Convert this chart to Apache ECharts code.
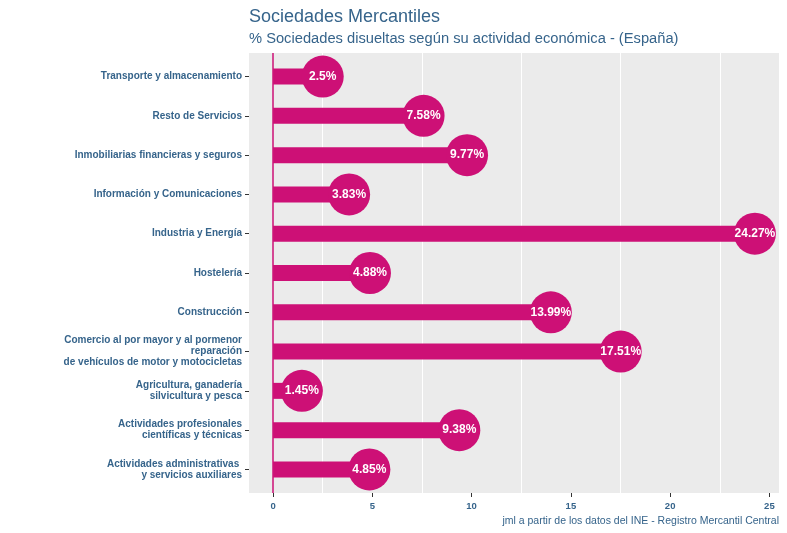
<!DOCTYPE html>
<html>
<head>
<meta charset="utf-8">
<script src="https://cdn.jsdelivr.net/npm/echarts@6/dist/echarts.min.js"></script>
<style>html,body{margin:0;padding:0;background:#fff;}#c{width:787px;height:533px;}</style>
</head>
<body>
<div id="c"></div>
<script>
// Categories listed bottom -> top
const categories = [
  "Actividades administrativas \ny servicios auxiliares",
  "Actividades profesionales\ncientíficas y técnicas",
  "Agricultura, ganadería\nsilvicultura y pesca",
  "Comercio al por mayor y al pormenor\nreparación\nde vehículos de motor y motocicletas",
  "Construcción",
  "Hostelería",
  "Industria y Energía",
  "Información y Comunicaciones",
  "Inmobiliarias financieras y seguros",
  "Resto de Servicios",
  "Transporte y almacenamiento"
];
const values = [4.85, 9.38, 1.45, 17.51, 13.99, 4.88, 24.27, 3.83, 9.77, 7.58, 2.5];
const xTicks = [0, 5, 10, 15, 20, 25];
const xMinorGrid = [2.5, 7.5, 12.5, 17.5, 22.5];
const yTicks = categories.map((c, i) => i);

const PINK = '#CD1076';
const BLUE = '#36648B';
const FONT = '"Liberation Sans", Arial, sans-serif';

const pts = values.map((v, i) => [v, i]);

const chart = echarts.init(document.getElementById('c'), null, {renderer: 'canvas'});
chart.setOption({
  animation: false,
  backgroundColor: '#ffffff',
  title: [
    {text: 'Sociedades Mercantiles', left: 249, top: 8, padding: 0,
     textStyle: {fontFamily: FONT, fontSize: 18, fontWeight: 'normal', color: BLUE}},
    {text: '% Sociedades disueltas según su actividad económica - (España)', left: 249, top: 31, padding: 0,
     textStyle: {fontFamily: FONT, fontSize: 14.7, fontWeight: 'normal', color: BLUE}},
    {text: 'jml a partir de los datos del INE - Registro Mercantil Central', right: 8, top: 516, padding: 0,
     textStyle: {fontFamily: FONT, fontSize: 10.5, fontWeight: 'normal', color: BLUE}}
  ],
  grid: {left: 249, right: 8, top: 53, bottom: 40, show: true, backgroundColor: '#EBEBEB', borderWidth: 0},
  xAxis: {
    type: 'value', min: -1.2135, max: 25.4835,
    axisLine: {show: false, onZero: false},
    splitLine: {show: false},
    axisTick: {show: true, length: 4, customValues: xTicks, lineStyle: {color: '#333333', width: 1}},
    axisLabel: {customValues: xTicks, margin: 8, fontFamily: FONT, fontSize: 9.5, fontWeight: 'bold', color: BLUE,
      formatter: v => String(v)}
  },
  yAxis: {
    type: 'value', min: -0.6, max: 10.6,
    axisLine: {show: false, onZero: false},
    splitLine: {show: false},
    axisTick: {show: true, length: 4, customValues: yTicks, lineStyle: {color: '#333333', width: 1}},
    axisLabel: {customValues: yTicks, margin: 7, fontFamily: FONT, fontSize: 10, fontWeight: 'bold', color: BLUE,
      lineHeight: 11, align: 'right',
      formatter: v => categories[Math.round(v)] || ''}
  },
  series: [
    {
      type: 'custom',
      z: 2,
      data: pts,
      encode: {x: 0, y: 1},
      renderItem: function (params, api) {
        const v = api.value(0), idx = api.value(1);
        const s = api.coord([0, idx]);
        const e = api.coord([v, idx]);
        const h = 16;
        return {
          type: 'rect',
          shape: {x: s[0], y: s[1] - h / 2, width: e[0] - s[0], height: h},
          style: {fill: PINK}
        };
      }
    },
    {
      type: 'scatter',
      z: 3,
      data: pts,
      symbol: 'circle',
      symbolSize: 42,
      itemStyle: {color: PINK, opacity: 1},
      label: {show: true, position: 'inside', color: '#ffffff', fontFamily: FONT, fontSize: 12, fontWeight: 'bold',
        formatter: p => p.value[0] + '%'},
      markLine: {
        silent: true, z: 1, symbol: ['none', 'none'], animation: false,
        label: {show: false},
        data: xMinorGrid.map(x => ({xAxis: x, lineStyle: {color: '#ffffff', width: 1, type: 'solid'}}))
          .concat([{xAxis: 0, lineStyle: {color: PINK, width: 1.5, type: 'solid'}}])
      }
    }
  ]
});
</script>
</body>
</html>
